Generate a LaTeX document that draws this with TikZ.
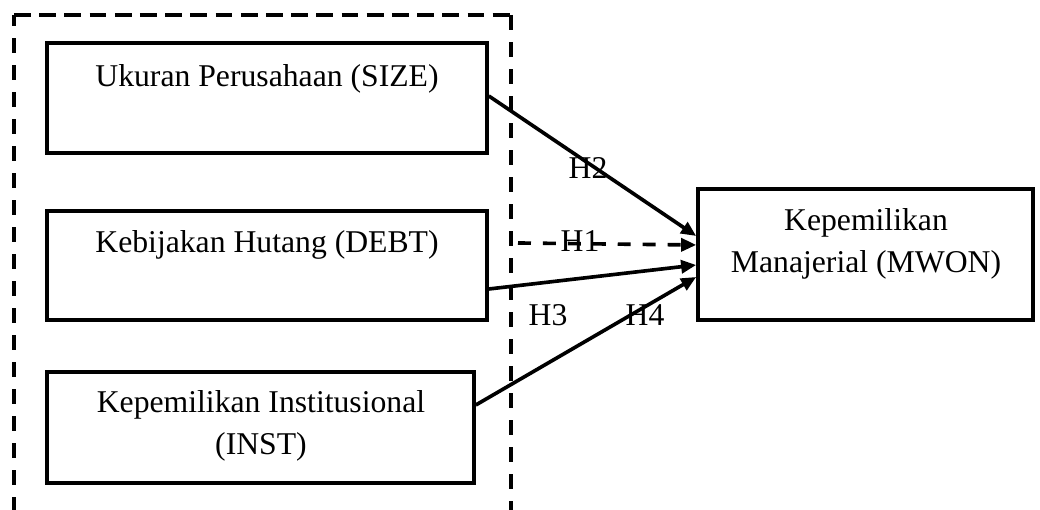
\documentclass[tikz,border=0pt]{standalone}
\usepackage{fontspec}
\setmainfont{Liberation Serif}
\usetikzlibrary{arrows.meta,calc}
\begin{document}
\begin{tikzpicture}[x=0.385pt,y=-0.385pt,
  box/.style={draw,line width=1.4pt,inner sep=0pt},
  txt/.style={inner sep=0pt,font=\fontsize{12.2}{16}\selectfont,align=center},
  lbl/.style={inner sep=0pt,font=\fontsize{12.2}{14}\selectfont,anchor=base},
  arr/.style={line width=1.4pt,-{Triangle[length=5.8pt,width=5pt]}},
  outerdash/.style={line width=1.4pt,dash pattern=on 5.8pt off 4.6pt},
  topdash/.style={line width=1.4pt,dash pattern=on 6.5pt off 3.2pt},
  hdash/.style={dash pattern=on 5pt off 4.6pt}]
\useasboundingbox (0,0) rectangle (1040,510);
% outer dashed frame (open at bottom)
\draw[outerdash] (14,512) -- (14,15);
\draw[topdash] (14,15) -- (511,15);
\draw[outerdash] (511,15) -- (511,512);
% boxes
\node[box,minimum width=440*0.385pt,minimum height=110*0.385pt] (size) at (267,98) {};
\node[box,minimum width=440*0.385pt,minimum height=109*0.385pt] (debt) at (267,265.5) {};
\node[box,minimum width=427*0.385pt,minimum height=111*0.385pt] (inst) at (260.5,427.5) {};
\node[box,minimum width=335*0.385pt,minimum height=131*0.385pt] (mw) at (865.5,254.5) {};
% texts
\node[txt,anchor=base] (sizet) at (267,87) {Ukuran Perusahaan (SIZE)};
\node[txt,anchor=base] (debtt) at (267,253) {Kebijakan Hutang (DEBT)};
\node[txt,anchor=north] (instt) at (261,390.4) {Kepemilikan Institusional\\(INST)};
\node[txt,anchor=north] (mwt) at (866,208.4) {Kepemilikan\\Manajerial (MWON)};
% connectors
\coordinate (h1s) at (518,243);
\draw[arr] ($(size.east)+(0,-2)$) -- ($(mw.west)+(0,-18.5)$);
\draw[arr,hdash] (h1s) -- ($(mw.west)+(0,-9.5)$);
\draw[arr] ($(debt.east)+(0,23.5)$) -- ($(mw.west)+(0,10.5)$);
\draw[arr] ($(inst.east)+(0,-22.5)$) -- ($(mw.west)+(0,22.5)$);
% labels
\node[lbl] (h2) at (588,179) {H2};
\node[lbl] (h1) at (580,252) {H1};
\node[lbl] (h3) at (548,326) {H3};
\node[lbl] (h4) at (645,326) {H4};
\end{tikzpicture}
\end{document}
